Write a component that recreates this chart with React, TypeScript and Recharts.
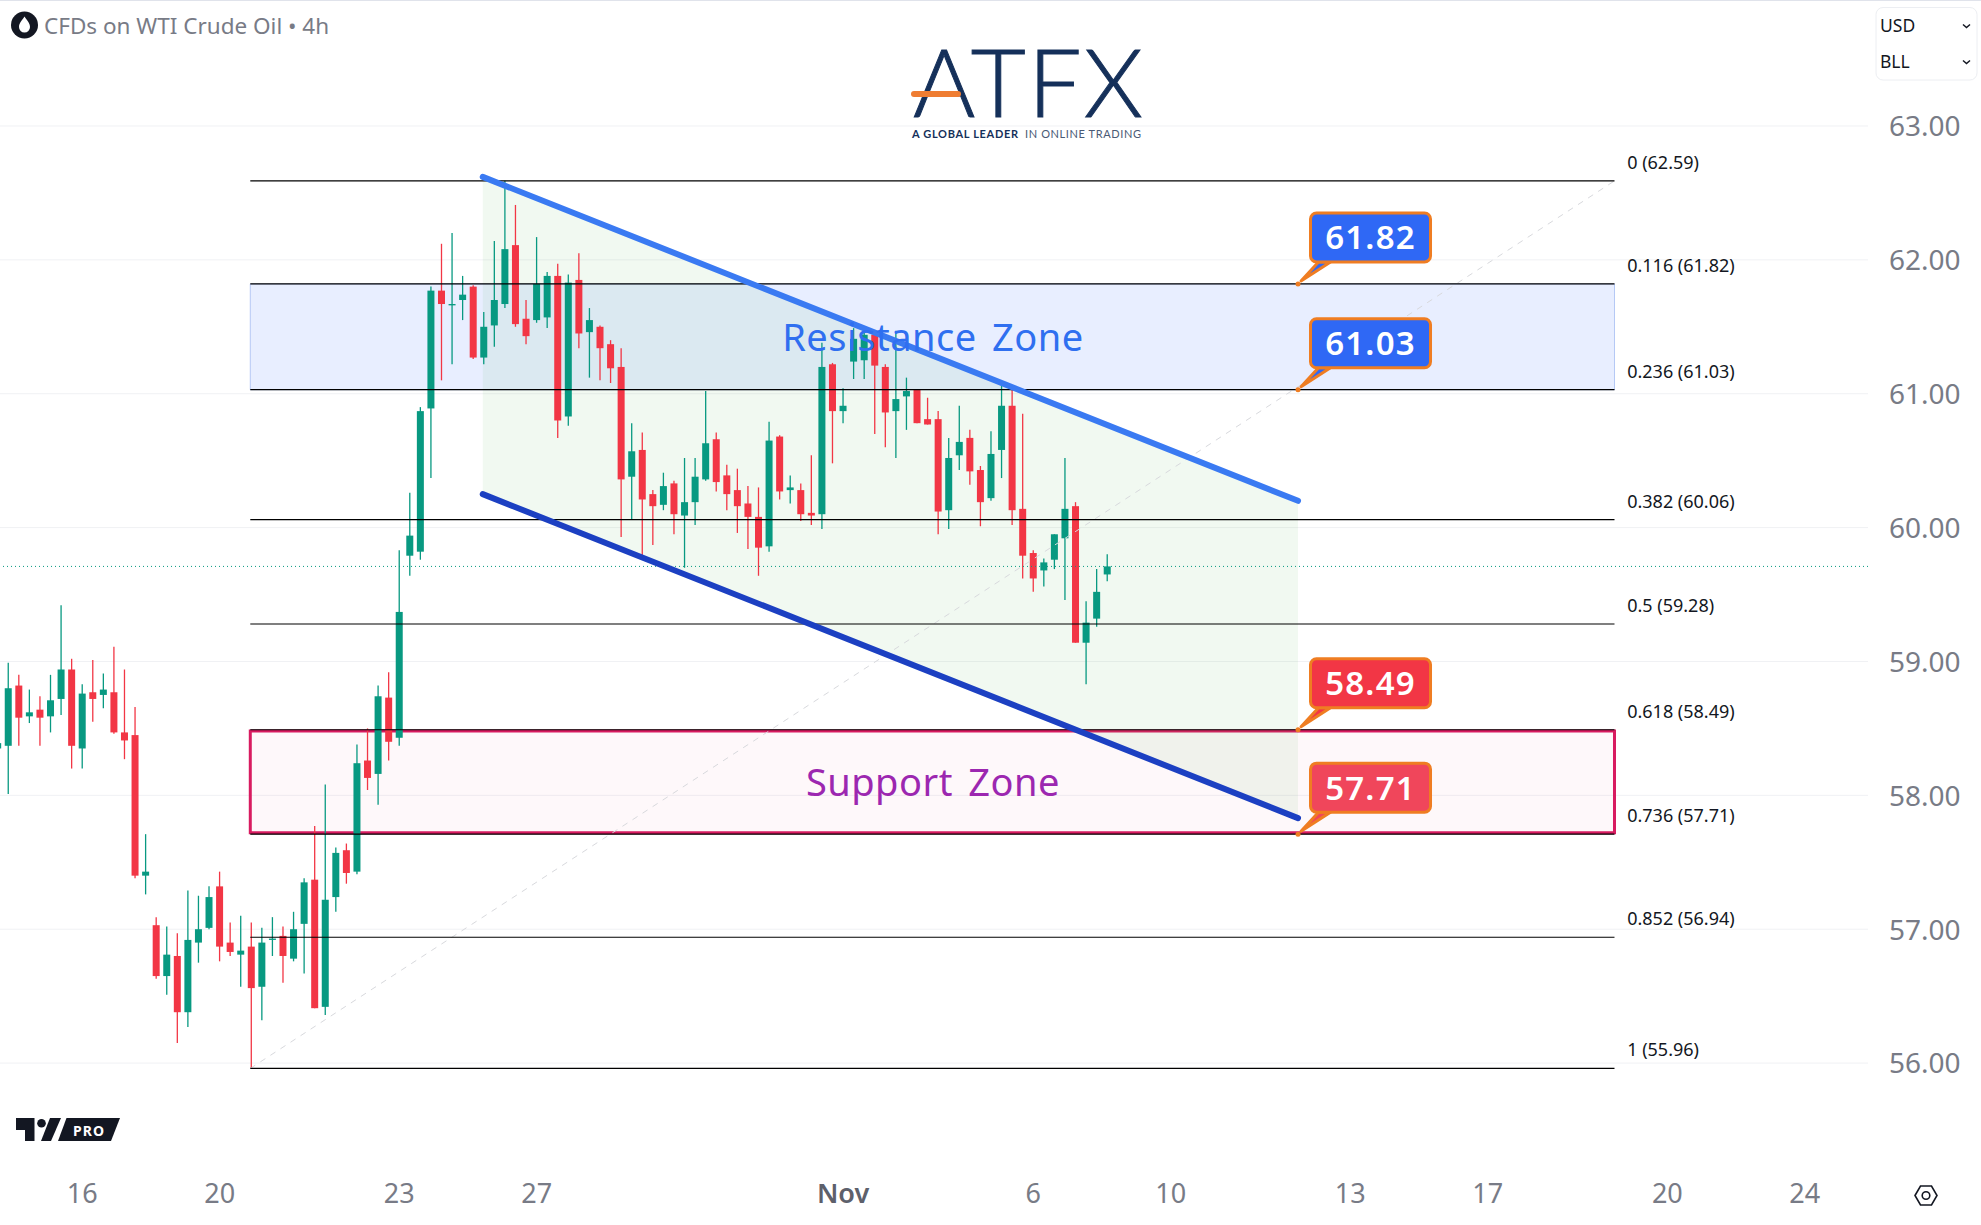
import React from 'react';
import {
  Area,
  Bar,
  CartesianGrid,
  ComposedChart,
  ReferenceArea,
  ReferenceDot,
  ReferenceLine,
  XAxis,
  YAxis,
} from 'recharts';

// 4h candles left to right. First bar sits half outside the plot.
const opens = [
  58.35, 58.37, 58.82, 58.59, 58.64, 58.59, 58.72, 58.94, 58.35, 58.77, 58.75, 58.77, 58.47, 58.45, 57.40, 57.03, 56.65,
  56.80, 56.38, 56.90, 57.01, 57.32, 56.90, 56.81, 56.87, 56.57, 56.92, 56.95, 56.78, 57.04, 57.37, 56.42, 57.24, 57.59,
  57.43, 58.26, 58.16, 58.73, 58.43, 59.79, 59.82, 60.89, 61.77, 61.66, 61.70, 61.80, 61.27, 61.51, 61.67, 62.11, 61.56,
  61.55, 61.57, 61.88, 60.83, 61.85, 61.46, 61.50, 61.37, 61.20, 60.38, 60.58, 60.25, 60.17, 60.33, 60.09, 60.19, 60.36,
  60.66, 60.39, 60.28, 60.18, 60.08, 59.86, 60.68, 60.28, 60.28, 60.11, 60.10, 61.22, 60.87, 61.24, 61.25, 61.44, 61.20,
  60.87, 60.98, 61.03, 60.81, 60.81, 60.13, 60.54, 60.67, 60.43, 60.22, 60.58, 60.91, 60.14, 59.81, 59.68, 59.76, 59.92,
  60.16, 59.14, 59.32, 59.65,
];
const highs = [
  58.45, 58.99, 58.90, 58.79, 58.74, 58.90, 59.42, 59.02, 58.83, 59.01, 58.91, 59.11, 58.94, 58.66, 57.71, 57.09, 57.02,
  56.97, 57.29, 57.25, 57.32, 57.43, 57.05, 57.10, 57.05, 57.01, 57.09, 57.02, 57.13, 57.38, 57.77, 58.08, 57.61, 57.64,
  58.38, 58.50, 58.82, 58.92, 59.83, 60.26, 60.90, 61.80, 62.12, 62.20, 61.88, 61.81, 61.61, 62.14, 62.59, 62.41, 61.70,
  62.17, 61.91, 61.97, 61.89, 62.05, 61.64, 61.51, 61.40, 61.34, 60.78, 60.71, 60.28, 60.41, 60.35, 60.52, 60.52, 61.02,
  60.71, 60.47, 60.44, 60.31, 60.30, 60.79, 60.69, 60.39, 60.33, 60.54, 61.38, 61.23, 61.04, 61.49, 61.49, 61.46, 61.22,
  61.47, 61.12, 61.03, 60.97, 60.87, 60.67, 60.91, 60.73, 60.46, 60.72, 61.08, 61.04, 60.85, 59.83, 59.77, 59.95, 60.52,
  60.19, 59.45, 59.69, 59.80,
];
const lows = [
  58.30, 58.01, 58.37, 58.54, 58.37, 58.47, 58.60, 58.20, 58.20, 58.55, 58.65, 58.46, 58.27, 57.38, 57.26, 56.63, 56.51,
  56.15, 56.27, 56.75, 57.00, 56.76, 56.80, 56.57, 55.96, 56.32, 56.80, 56.60, 56.76, 56.67, 56.41, 56.36, 57.13, 57.34,
  57.41, 58.04, 57.93, 58.26, 58.37, 59.64, 59.76, 60.37, 61.10, 61.22, 61.55, 61.26, 61.22, 61.35, 61.64, 61.50, 61.37,
  61.53, 61.49, 60.67, 60.76, 61.34, 61.12, 61.10, 61.08, 59.93, 60.06, 59.76, 59.87, 60.13, 59.95, 59.70, 60.02, 60.35,
  60.27, 60.13, 59.96, 59.84, 59.64, 59.82, 60.21, 60.18, 60.05, 60.02, 59.99, 60.48, 60.78, 61.11, 61.11, 60.70, 60.60,
  60.52, 60.73, 60.78, 60.77, 59.95, 59.99, 60.43, 60.32, 60.01, 60.20, 60.37, 60.02, 59.62, 59.52, 59.56, 59.69, 59.46,
  59.14, 58.83, 59.26, 59.60,
];
const closes = [
  58.39, 58.80, 58.58, 58.62, 58.58, 58.71, 58.94, 58.37, 58.76, 58.72, 58.79, 58.47, 58.41, 57.40, 57.43, 56.65, 56.81,
  56.38, 56.92, 57.00, 57.24, 56.87, 56.83, 56.84, 56.56, 56.90, 56.93, 56.80, 57.00, 57.35, 56.41, 57.22, 57.57, 57.42,
  58.24, 58.13, 58.74, 58.40, 59.37, 59.94, 60.87, 61.77, 61.67, 61.67, 61.74, 61.27, 61.50, 61.70, 62.08, 61.52, 61.43,
  61.82, 61.88, 60.80, 61.83, 61.45, 61.55, 61.34, 61.19, 60.36, 60.57, 60.21, 60.16, 60.31, 60.10, 60.19, 60.38, 60.63,
  60.34, 60.25, 60.16, 60.08, 59.85, 60.65, 60.27, 60.30, 60.10, 60.09, 61.20, 60.87, 60.91, 61.41, 61.44, 61.21, 60.86,
  60.96, 61.02, 60.78, 60.77, 60.12, 60.52, 60.64, 60.42, 60.19, 60.55, 60.91, 60.13, 59.79, 59.62, 59.74, 59.95, 60.14,
  59.14, 59.29, 59.52, 59.71,
];

const priceTicks = [56, 57, 58, 59, 60, 61, 62, 63];
const timeTicks = [7, 20, 37, 50, 79, 97, 110, 127, 140, 157, 170];
const timeLabels = ['16', '20', '23', '27', 'Nov', '6', '10', '13', '17', '20', '24'];

const fibRatios = ['0', '0.116', '0.236', '0.382', '0.5', '0.618', '0.736', '0.852', '1'];
const fibPrices = [62.59, 61.82, 61.03, 60.06, 59.28, 58.49, 57.71, 56.94, 55.96];
const fibStart = 22.9;
const fibEnd = 152;
const fibLabelAt = 153.2;

const lastPrice = 59.71;

const channelStart = 44.9;
const channelEnd = 122.05;
const channelUpper = [62.62, 60.2];
const channelLower = [60.25, 57.83];

const calloutAt = 122.05;
const calloutPrices = [61.82, 61.03, 58.49, 57.71];
const calloutFills = ['#2f68f5', '#2f68f5', '#f23645', '#f0465b'];

const GREEN = '#089981';
const RED = '#f23645';
const AXIS_TEXT = '#787b86';
const FONT = '"Noto Sans", sans-serif';
const BODY_WIDTH = 7;

const rows: any[] = opens.map((open, i) => ({
  t: i - 1,
  open,
  high: highs[i],
  low: lows[i],
  close: closes[i],
  range: [lows[i], highs[i]],
}));
rows.push({ t: channelStart, channel: [channelLower[0], channelUpper[0]] });
rows.push({ t: channelEnd, channel: [channelLower[1], channelUpper[1]] });
rows.sort((a, b) => a.t - b.t);

const Candle = (props: any) => {
  const { x, y, width, height, payload } = props;
  if (!payload || payload.open == null) return null;
  const { open, high, low, close } = payload;
  const color = close >= open ? GREEN : RED;
  const unit = Math.abs(height) / (high - low);
  const top = y + (high - Math.max(open, close)) * unit;
  const bodyH = Math.max(Math.abs(open - close) * unit, 1);
  const cx = x + width / 2;
  return (
    <g>
      <line x1={cx} x2={cx} y1={y} y2={y + Math.abs(height)} stroke={color} strokeWidth={1.3} />
      <rect x={cx - BODY_WIDTH / 2} y={top} width={BODY_WIDTH} height={bodyH} fill={color} />
    </g>
  );
};

const TimeTick = (props: any) => {
  const { x, y, payload } = props;
  const label = timeLabels[timeTicks.indexOf(payload.value)];
  return (
    <text
      x={x}
      y={y}
      textAnchor="middle"
      dominantBaseline="central"
      fontFamily={FONT}
      fontSize={27}
      fontWeight={label === 'Nov' ? 600 : 400}
      fill={label === 'Nov' ? '#5d606b' : AXIS_TEXT}
    >
      {label}
    </text>
  );
};

const PriceTick = (props: any) => {
  const { x, y, payload } = props;
  return (
    <text x={x} y={y - 0.6} dominantBaseline="central" fontFamily={FONT} fontSize={28} fill={AXIS_TEXT}>
      {payload.value.toFixed(2)}
    </text>
  );
};

const Callout = (props: any) => {
  const { cx, cy, fill, value } = props;
  const left = cx + 12.5;
  const top = cy - 71;
  return (
    <g>
      <path
        d={`M${cx + 3} ${cy - 3} L${left + 8} ${top + 49} L${left + 20} ${top + 49} Z`}
        fill={fill}
        stroke="#ef7d22"
        strokeWidth={3}
        strokeLinejoin="round"
      />
      <circle cx={cx} cy={cy} r={2.5} fill="#ef7d22" />
      <rect x={left} y={top} width={120} height={49} rx={6} fill={fill} stroke="#ef7d22" strokeWidth={3} />
      <text
        x={left + 60}
        y={top + 24}
        textAnchor="middle"
        dominantBaseline="central"
        fontFamily={FONT}
        fontSize={33}
        fontWeight={600}
        letterSpacing={1.2}
        fill="#fff"
      >
        {value.toFixed(2)}
      </text>
    </g>
  );
};

const ZoneText = (props: any) => (
  <text
    x={props.cx}
    y={props.cy - 1.2}
    textAnchor="middle"
    dominantBaseline="central"
    fontFamily={FONT}
    fontSize={38}
    letterSpacing={0.5}
    wordSpacing={5}
    fill={props.fill}
  >
    {props.label}
  </text>
);

const Overlay = () => (
  <svg width={1981} height={1225} style={{ position: 'absolute', left: 0, top: 0, pointerEvents: 'none' }}>
    <line x1={0} x2={1981} y1={0.5} y2={0.5} stroke="#e0e3eb" />

    {/* legend */}
    <circle cx={24.5} cy={25} r={13.5} fill="#131722" />
    <path d="M24.5 16.5 C27 20.5 30 23 30 27 A5.5 5.5 0 0 1 19 27 C19 23 22 20.5 24.5 16.5 Z" fill="#fff" />
    <text x={44} y={25} dominantBaseline="central" fontFamily={FONT} fontSize={22.5} fill={AXIS_TEXT}>
      CFDs on WTI Crude Oil • 4h
    </text>

    {/* logo */}
    <text
      x={913}
      y={117}
      fontFamily="Lato, sans-serif"
      fontSize={95}
      fontWeight={300}
      textLength={230}
      lengthAdjust="spacing"
      fill="#15305a"
      stroke="#15305a"
      strokeWidth={1}
    >
      ATFX
    </text>
    <line x1={914} x2={958} y1={94} y2={94} stroke="#ef7d32" strokeWidth={6} strokeLinecap="round" />
    <text
      x={912}
      y={133}
      dominantBaseline="central"
      fontFamily="Lato, sans-serif"
      fontSize={11}
      fontWeight={700}
      textLength={106}
      lengthAdjust="spacing"
      fill="#15305a"
    >
      A GLOBAL LEADER
    </text>
    <text
      x={1025}
      y={133}
      dominantBaseline="central"
      fontFamily="Lato, sans-serif"
      fontSize={11}
      textLength={116}
      lengthAdjust="spacing"
      fill="#4a5a75"
    >
      IN ONLINE TRADING
    </text>

    {/* unit menu */}
    <rect x={1876} y={7.5} width={101} height={72.5} rx={7} fill="#fff" stroke="#eceef2" />
    <text x={1880} y={25} dominantBaseline="central" fontFamily={FONT} fontSize={17.5} fill="#131722">
      USD
    </text>
    <text x={1880} y={61} dominantBaseline="central" fontFamily={FONT} fontSize={17.5} fill="#131722">
      BLL
    </text>
    <path d="M1963 24.5 L1966.5 27.5 L1970 24.5" fill="none" stroke="#131722" strokeWidth={1.5} />
    <path d="M1963 60.5 L1966.5 63.5 L1970 60.5" fill="none" stroke="#131722" strokeWidth={1.5} />

    {/* tradingview badge */}
    <path d="M16 1118 H34.5 V1141 H25 V1130 H16 Z" fill="#131722" />
    <circle cx={41.5} cy={1123.3} r={4.3} fill="#131722" />
    <path d="M50 1118 H61 L51 1141 H41 Z" fill="#131722" />
    <path d="M66.5 1118 H120 L111 1141 H58 Z" fill="#131722" />
    <text
      x={73}
      y={1130}
      dominantBaseline="central"
      fontFamily={FONT}
      fontSize={14}
      fontWeight={700}
      letterSpacing={1}
      fill="#fff"
    >
      PRO
    </text>

    {/* settings */}
    <path
      d="M1915 1195.5 L1920.5 1186 H1931.5 L1937 1195.5 L1931.5 1205 H1920.5 Z"
      fill="none"
      stroke="#131722"
      strokeWidth={1.6}
    />
    <circle cx={1926} cy={1195.5} r={3.8} fill="none" stroke="#131722" strokeWidth={1.6} />
  </svg>
);

export default function App() {
  return (
    <div style={{ position: 'absolute', left: 0, top: 0, width: 1981, height: 1225, background: '#fff' }}>
      <ComposedChart
        width={1981}
        height={1225}
        data={rows}
        margin={{ top: 0, right: 0, bottom: 0, left: 0 }}
        barSize={7}
      >
        <CartesianGrid vertical={false} stroke="#f0f1f4" horizontalValues={priceTicks} />
        <XAxis
          dataKey="t"
          type="number"
          domain={[-0.785, 175.99]}
          allowDataOverflow
          ticks={timeTicks}
          tick={<TimeTick />}
          interval={0}
          axisLine={false}
          tickLine={false}
          tickSize={0}
          tickMargin={32}
          height={65}
        />
        <YAxis
          orientation="right"
          type="number"
          domain={[55.276, 63.941]}
          allowDataOverflow
          ticks={priceTicks}
          tick={<PriceTick />}
          interval={0}
          axisLine={false}
          tickLine={false}
          tickSize={0}
          tickMargin={21}
          width={113}
        />

        <ReferenceArea
          x1={fibStart}
          x2={fibEnd}
          y1={fibPrices[2]}
          y2={fibPrices[1]}
          fill="#2962ff"
          fillOpacity={0.11}
          stroke="#b6c9f5"
          strokeWidth={1}
        />
        <ReferenceArea
          x1={fibStart}
          x2={fibEnd}
          y1={fibPrices[6] + 0.01}
          y2={fibPrices[5] - 0.01}
          fill="#e91e63"
          fillOpacity={0.03}
          stroke="#d81b60"
          strokeWidth={3}
        />
        <Area
          dataKey="channel"
          type="linear"
          connectNulls
          stroke="none"
          fill="#4caf50"
          fillOpacity={0.08}
          dot={false}
          activeDot={false}
          isAnimationActive={false}
        />
        <Bar dataKey="range" shape={<Candle />} isAnimationActive={false} />

        <ReferenceLine y={lastPrice} stroke={GREEN} strokeDasharray="1 3" strokeWidth={1} isFront />
        <ReferenceLine
          segment={[
            { x: fibStart, y: fibPrices[8] },
            { x: fibEnd, y: fibPrices[0] },
          ]}
          stroke="#d8d9dd"
          strokeDasharray="6 6"
          isFront
        />
        {fibPrices.map((price) => (
          <ReferenceLine
            key={price}
            segment={[
              { x: fibStart, y: price },
              { x: fibEnd, y: price },
            ]}
            stroke="#000"
            strokeWidth={1.2}
            isFront
          />
        ))}
        {fibPrices.map((price, i) => (
          <ReferenceDot
            key={`label-${price}`}
            x={fibLabelAt}
            y={price}
            isFront
            shape={(p: any) => (
              <text
                x={p.cx}
                y={p.cy - 19}
                dominantBaseline="central"
                fontFamily={FONT}
                fontSize={18}
                fill="#131722"
              >
                {`${fibRatios[i]} (${price.toFixed(2)})`}
              </text>
            )}
          />
        ))}
        <ReferenceLine
          segment={[
            { x: channelStart, y: channelUpper[0] },
            { x: channelEnd, y: channelUpper[1] },
          ]}
          stroke="#3a7af2"
          strokeWidth={6}
          strokeLinecap="round"
          isFront
        />
        <ReferenceLine
          segment={[
            { x: channelStart, y: channelLower[0] },
            { x: channelEnd, y: channelLower[1] },
          ]}
          stroke="#1c40c2"
          strokeWidth={6}
          strokeLinecap="round"
          isFront
        />
        <ReferenceDot
          x={87.5}
          y={61.425}
          isFront
          shape={(p: any) => <ZoneText cx={p.cx} cy={p.cy} fill="#2f6ff0" label="Resistance Zone" />}
        />
        <ReferenceDot
          x={87.5}
          y={58.1}
          isFront
          shape={(p: any) => <ZoneText cx={p.cx} cy={p.cy} fill="#9c27b0" label="Support Zone" />}
        />
        {calloutPrices.map((price, i) => (
          <ReferenceDot
            key={`callout-${price}`}
            x={calloutAt}
            y={price}
            isFront
            shape={(p: any) => <Callout cx={p.cx} cy={p.cy} fill={calloutFills[i]} value={price} />}
          />
        ))}
      </ComposedChart>
      <Overlay />
    </div>
  );
}
